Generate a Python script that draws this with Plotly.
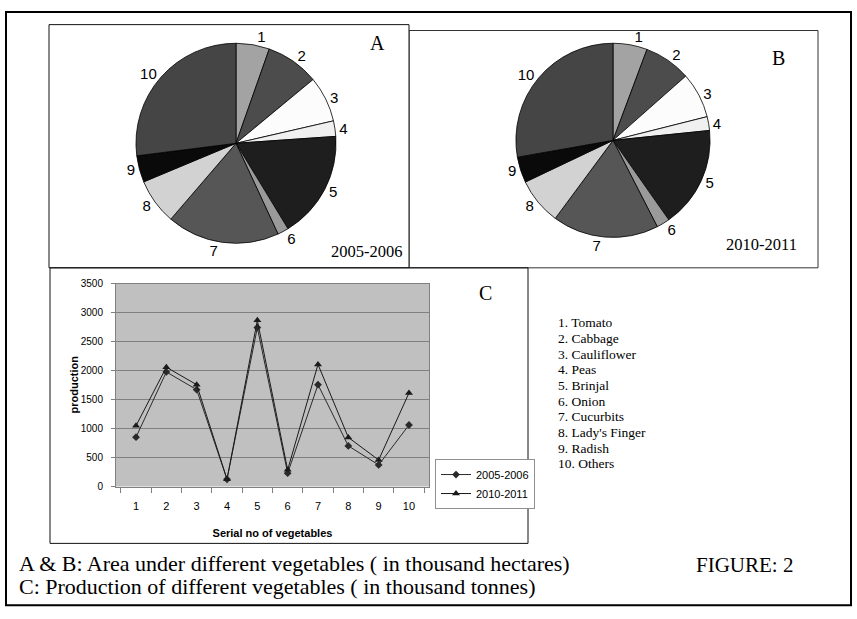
import plotly.graph_objects as go

W, H = 857, 619

slice_labels = ["1", "2", "3", "4", "5", "6", "7", "8", "9", "10"]
area_2005 = [5.4, 8.6, 7.4, 2.5, 17.4, 1.8, 18.2, 7.4, 4.3, 27.0]
area_2010 = [5.7, 7.8, 7.6, 2.3, 16.9, 2.2, 17.7, 7.8, 4.3, 27.8]
slice_colors = ["#a3a3a3", "#4c4c4c", "#fcfcfc", "#f0f0f0", "#1e1e1e",
                "#9a9a9a", "#565656", "#d2d2d2", "#0a0a0a", "#454545"]

serial = ["1", "2", "3", "4", "5", "6", "7", "8", "9", "10"]
prod_2005 = [850, 1975, 1670, 125, 2740, 230, 1755, 700, 372, 1060]
prod_2010 = [1048, 2057, 1755, 125, 2865, 287, 2105, 846, 457, 1612]

vegetables = ["1. Tomato", "2. Cabbage", "3. Cauliflower", "4. Peas", "5. Brinjal",
              "6. Onion", "7. Cucurbits", "8. Lady's Finger", "9. Radish", "10. Others"]


def px_x(v):
    return v / W


def px_y(v):
    return 1 - v / H


fig = go.Figure()

# Pie A
fig.add_trace(go.Pie(
    values=area_2005, labels=slice_labels, text=slice_labels, textinfo="text",
    textposition="outside", sort=False, direction="clockwise", rotation=0,
    marker=dict(colors=slice_colors, line=dict(color="#000000", width=0.8)),
    textfont=dict(family="Arial, Liberation Sans", size=15, color="#000"),
    domain=dict(x=[px_x(134), px_x(338)], y=[px_y(242), px_y(38)]),
    showlegend=False, hoverinfo="label+value",
))
# Pie B
fig.add_trace(go.Pie(
    values=area_2010, labels=slice_labels, text=slice_labels, textinfo="text",
    textposition="outside", sort=False, direction="clockwise", rotation=0,
    marker=dict(colors=slice_colors, line=dict(color="#000000", width=0.8)),
    textfont=dict(family="Arial, Liberation Sans", size=15, color="#000"),
    domain=dict(x=[px_x(514), px_x(712)], y=[px_y(236), px_y(38)]),
    showlegend=False, hoverinfo="label+value",
))

# Line chart C
fig.add_trace(go.Scatter(
    x=serial, y=prod_2005, mode="lines+markers", name="2005-2006",
    line=dict(color="#2a2a2a", width=1),
    marker=dict(symbol="diamond", size=6, color="#2a2a2a"),
))
fig.add_trace(go.Scatter(
    x=serial, y=prod_2010, mode="lines+markers", name="2010-2011",
    line=dict(color="#1a1a1a", width=1),
    marker=dict(symbol="triangle-up", size=7, color="#1a1a1a"),
))

fig.update_layout(
    width=W, height=H,
    margin=dict(l=0, r=0, t=0, b=0),
    paper_bgcolor="white",
    plot_bgcolor="#c0c0c0",
    font=dict(family="Arial, Liberation Sans", color="#000"),
    xaxis=dict(
        domain=[px_x(116), px_x(429)], type="category",
        tickson="boundaries", ticks="outside", ticklen=5, tickcolor="#808080",
        showline=True, linecolor="#808080", linewidth=1, mirror=True,
        showgrid=False, tickfont=dict(size=11), ticklabelstandoff=9,
        title=dict(text="<b>Serial no of vegetables</b>", font=dict(size=11), standoff=18),
        anchor="y",
    ),
    yaxis=dict(
        domain=[px_y(490), px_y(283)], range=[0, 3500], dtick=500,
        ticks="outside", ticklen=4, tickcolor="#808080",
        showline=True, linecolor="#808080", linewidth=1, mirror=True,
        gridcolor="#808080", gridwidth=1, zeroline=False,
        tickfont=dict(size=10), ticklabelstandoff=6,
        anchor="x",
    ),
    legend=dict(
        x=px_x(435), y=px_y(462), xanchor="left", yanchor="top",
        bordercolor="#909090", borderwidth=1, bgcolor="white",
        font=dict(size=11), tracegroupgap=0, itemwidth=30,
    ),
)

shapes = [
    # outer frame
    dict(type="rect", xref="paper", yref="paper", x0=px_x(6), x1=px_x(851),
         y0=px_y(611), y1=px_y(6), line=dict(color="#000", width=2), layer="below"),
    # box B
    dict(type="rect", xref="paper", yref="paper", x0=px_x(409), x1=px_x(818),
         y0=px_y(267), y1=px_y(25), line=dict(color="#333", width=1), layer="below"),
    # box A
    dict(type="rect", xref="paper", yref="paper", x0=px_x(49), x1=px_x(409),
         y0=px_y(267), y1=px_y(19), line=dict(color="#111", width=1),
         fillcolor="white", layer="below"),
    # box C
    dict(type="rect", xref="paper", yref="paper", x0=px_x(50), x1=px_x(528),
         y0=px_y(548), y1=px_y(267), line=dict(color="#111", width=1), layer="below"),
]
fig.update_layout(shapes=shapes)

serif = "Times New Roman, Liberation Serif, serif"
ann = [
    dict(text="<b>production</b>", x=px_x(66), y=px_y(386), textangle=-90,
         font=dict(family="Arial, Liberation Sans", size=11)),
    dict(text="A", x=px_x(377), y=px_y(38), font=dict(family=serif, size=20)),
    dict(text="2005-2006", x=px_x(405), y=px_y(250), xanchor="right", font=dict(family=serif, size=16.5)),
    dict(text="B", x=px_x(787), y=px_y(53), font=dict(family=serif, size=20)),
    dict(text="2010-2011", x=px_x(799), y=px_y(243), xanchor="right", font=dict(family=serif, size=16.5)),
    dict(text="C", x=px_x(485), y=px_y(293), font=dict(family=serif, size=20)),
    dict(text="A & B: Area under different vegetables ( in thousand hectares)",
         x=px_x(17), y=px_y(569), xanchor="left", font=dict(family=serif, size=22)),
    dict(text="C: Production of different vegetables ( in thousand tonnes)",
         x=px_x(17), y=px_y(592), xanchor="left", font=dict(family=serif, size=22)),
    dict(text="FIGURE: 2", x=px_x(694), y=px_y(570), xanchor="left", font=dict(family=serif, size=21)),
]
for i, v in enumerate(vegetables):
    ann.append(dict(text=v, x=px_x(556), y=px_y(323 + 16 * i), xanchor="left",
                    font=dict(family=serif, size=13.5)))
for a in ann:
    a.update(xref="paper", yref="paper", showarrow=False, yanchor="middle")
fig.update_layout(annotations=ann)

fig.write_html("out.html")
